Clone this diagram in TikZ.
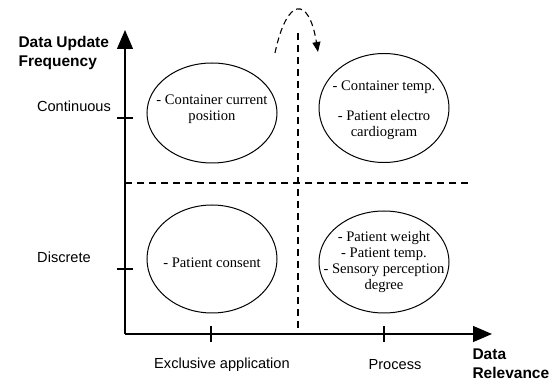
\documentclass[tikz,border=0pt]{standalone}
\usepackage{fontspec}
\setmainfont{Liberation Serif}
\setsansfont{Liberation Sans}
\usetikzlibrary{arrows.meta,shapes.geometric}
\tikzset{
  axis/.style={line width=1.3pt,-{Triangle[length=19pt,width=16pt]}},
  tick/.style={line width=1.1pt},
  split/.style={line width=1.1pt,dash pattern=on 7pt off 5pt},
  field/.style={draw,ellipse,line width=1pt,inner sep=0pt,minimum width=130pt},
  fieldtext/.style={align=center,inner sep=0pt,font=\fontsize{14.6}{16}\selectfont},
  axlabel/.style={font=\sffamily\fontsize{14.6}{17}\selectfont},
  axtitle/.style={font=\sffamily\bfseries\fontsize{15.5}{19}\selectfont,align=left}
}
\begin{document}
\begin{tikzpicture}[x=1pt,y=-1pt]
\useasboundingbox (0,0) rectangle (558,385);
% axes
\coordinate (O) at (125,334);
\coordinate (ytop) at (125,30);
\coordinate (xend) at (492,334);
\draw[axis] (O) -- (ytop);
\draw[axis] (O) -- (xend);
% ticks
\coordinate (tc) at (125,118);
\coordinate (td) at (125,269);
\coordinate (te) at (211,334);
\coordinate (tp) at (384,334);
\foreach \t in {tc,td}
  \draw[tick] ([xshift=-8pt]\t) -- ([xshift=8pt]\t);
\foreach \t in {te,tp}
  \draw[tick] ([yshift=-8pt]\t) -- ([yshift=8pt]\t);
% quadrant borders
\coordinate (hl) at (125,183);
\coordinate (hr) at (471,183);
\coordinate (vt) at (298,33);
\coordinate (vb) at (298,333);
\draw[split] (hl) -- (hr);
\draw[split] (vt) -- (vb);
% moving arrow
\coordinate (ms) at (275,53);
\coordinate (me) at (318,52);
\draw[line width=1.1pt,dash pattern=on 6pt off 4pt,-{Triangle[length=10pt,width=8pt]}]
  (ms) .. controls (287,-4) and (309,-4) .. (me);
% axis labels
\node[axtitle,anchor=west] (ytitle) at (15,53) {Data Update\\Frequency};
\node[axtitle,anchor=west] (xtitle) at (469,364) {Data\\Relevance};
\node[axlabel] (cont) at (74,106) {Continuous};
\node[axlabel] (disc) at (64,257) {Discrete};
\node[axlabel] (excl) at (222,365) {Exclusive application};
\node[axlabel] (proc) at (395,365) {Process};
% quadrants
\node[field,minimum height=100pt] (curpos) at (212,113) {};
\node[field,minimum height=109pt] (temp) at (384,108) {};
\node[field,minimum height=108pt] (consent) at (212,259) {};
\node[field,minimum height=102pt] (weight) at (384,262) {};
\node[fieldtext] (curpostext) at ([yshift=4pt]curpos.center)
  {- Container current\\position};
\node[fieldtext] (temptext) at ([yshift=-2pt]temp.center)
  {- Container temp.\\[14pt]- Patient electro\\cardiogram};
\node[fieldtext] (consenttext) at ([yshift=-4pt]consent.center)
  {- Patient consent};
\node[fieldtext] (weighttext) at (weight.center)
  {- Patient weight\\- Patient temp.\\- Sensory perception\\degree};
\end{tikzpicture}
\end{document}
